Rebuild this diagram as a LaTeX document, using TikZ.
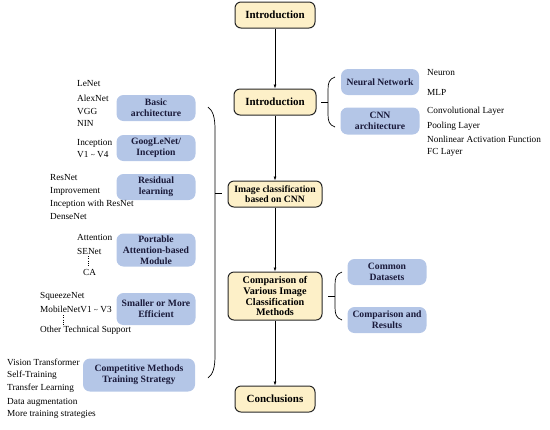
\documentclass[tikz,border=0pt]{standalone}
\usepackage{fontspec}
\setmainfont{Liberation Serif}
\usetikzlibrary{arrows.meta}
\definecolor{yel}{HTML}{FDF0C8}
\definecolor{blu}{HTML}{B4C6E7}
\definecolor{navy}{HTML}{1A1A3A}
\begin{document}
\begin{tikzpicture}[x=1bp,y=-1bp,
 ybox/.style={draw=black!85, line width=1pt, fill=yel, rounded corners=6bp, align=center,
   font=\bfseries\fontsize{9.7}{10.7}\selectfont, inner sep=1bp},
 bbox/.style={fill=blu, rounded corners=7bp, align=center, text=navy,
   font=\bfseries\fontsize{9.7}{11}\selectfont, inner sep=1bp},
 lbl/.style={font=\fontsize{9.3}{10}\selectfont, anchor=west, inner sep=0pt},
 arr/.style={-{Latex[length=4bp,width=3bp]}, line width=0.6pt},
 brc/.style={line width=0.7pt},
 dts/.style={line width=0.7pt, dash pattern=on 0.7pt off 1.6pt}]
\useasboundingbox (0,0) rectangle (550,429);
% main column
\node[ybox, minimum width=80bp, minimum height=26bp, font=\bfseries\fontsize{11}{12}\selectfont] (intro1) at (275,15) {Introduction};
\node[ybox, minimum width=82bp, minimum height=26bp, font=\bfseries\fontsize{11}{12}\selectfont] (intro2) at (275,102) {Introduction};
\node[ybox, minimum width=94bp, minimum height=26bp] (imgc) at (275,194) {Image classification\\based on CNN};
\node[ybox, minimum width=94bp, minimum height=48bp, font=\bfseries\fontsize{10.2}{11}\selectfont] (comp) at (275,296) {Comparison of\\Various Image\\Classification\\Methods};
\node[ybox, minimum width=80bp, minimum height=26bp, font=\bfseries\fontsize{11}{12}\selectfont] (concl) at (275,399) {Conclusions};
\draw[arr] (intro1) -- (intro2);
\draw[arr] (intro2) -- (imgc);
\draw[arr] (imgc) -- (comp);
\draw[arr] (comp) -- (concl);
% right upper
\node[bbox, minimum width=78bp, minimum height=26bp] (nn) at (380,82) {Neural Network};
\node[bbox, minimum width=79bp, minimum height=27bp] (cnn) at (380,121) {CNN\\architecture};
\draw[brc] (335,77) .. controls (329,79) and (328,83) .. (328,90) -- (328,114) .. controls (328,121) and (329,125) .. (335,127);
\draw[brc] (328,102) -- (321,102);
\node[lbl] (t1) at (427,73) {Neuron};
\node[lbl] (t2) at (427,92) {MLP};
\node[lbl] (t3) at (427,111) {Convolutional Layer};
\node[lbl] (t4) at (427,126) {Pooling Layer};
\node[lbl] (t5) at (427,139) {Nonlinear Activation Function};
\node[lbl] (t6) at (427,152) {FC Layer};
% right lower
\node[bbox, minimum width=79bp, minimum height=26bp] (cd) at (387,272) {Common\\Datasets};
\node[bbox, minimum width=79bp, minimum height=26bp] (cr) at (387,320) {Comparison and\\Results};
\draw[brc] (342,272) .. controls (336,274) and (335,278) .. (335,285) -- (335,307) .. controls (335,314) and (336,318) .. (342,320);
\draw[brc] (335,296) -- (328,296);
% left boxes
\node[bbox, minimum width=79bp, minimum height=26bp] (ba) at (156,108) {Basic\\architecture};
\node[bbox, minimum width=79bp, minimum height=26bp] (gl) at (156,148) {GoogLeNet/\\Inception};
\node[bbox, minimum width=79bp, minimum height=26bp] (rl) at (156,187) {Residual\\learning};
\node[bbox, minimum width=79bp, minimum height=33bp] (pa) at (156,250) {Portable\\Attention-based\\Module};
\node[bbox, minimum width=79bp, minimum height=32bp] (sm) at (156,309) {Smaller or More\\Efficient};
\node[bbox, minimum width=112bp, minimum height=33bp] (cm) at (139,375) {Competitive Methods\\Training Strategy};
% big brace
\draw[brc] (208,107) .. controls (213,111) and (215,117) .. (215,130) -- (215,355) .. controls (215,368) and (213,374) .. (208,378);
\draw[brc] (215,193) -- (222,193);
% left texts
\node[lbl] (l1) at (77,84) {LeNet};
\node[lbl] (l2) at (77,98) {AlexNet};
\node[lbl] (l3) at (77,111) {VGG};
\node[lbl] (l4) at (77,123) {NIN};
\node[lbl] (g1) at (77,143) {Inception};
\node[lbl] (g2) at (77,155) {V1 {\fontsize{7.5}{8}\selectfont\textasciitilde} V4};
\node[lbl] (r1) at (50,178) {ResNet};
\node[lbl] (r2) at (50,191) {Improvement};
\node[lbl] (r3) at (50,204) {Inception with ResNet};
\node[lbl] (r4) at (50,217) {DenseNet};
\node[lbl] (a1) at (77,237) {Attention};
\node[lbl] (a2) at (77,251) {SENet};
\node[lbl] (a3) at (83,272) {CA};
\draw[dts] (88,256) -- (88,266);
\node[lbl] (s1) at (40,296) {SqueezeNet};
\node[lbl] (s2) at (40,309) {MobileNetV1 {\fontsize{7.5}{8}\selectfont\textasciitilde} V3};
\draw[dts] (63,315) -- (63,325);
\node[lbl] (s3) at (40,330) {Other Technical Support};
\node[lbl] (c1) at (7,362) {Vision Transformer};
\node[lbl] (c2) at (7,375) {Self-Training};
\node[lbl] (c3) at (7,388) {Transfer Learning};
\node[lbl] (c4) at (7,402) {Data augmentation};
\node[lbl] (c5) at (7,414) {More training strategies};
\end{tikzpicture}
\end{document}
